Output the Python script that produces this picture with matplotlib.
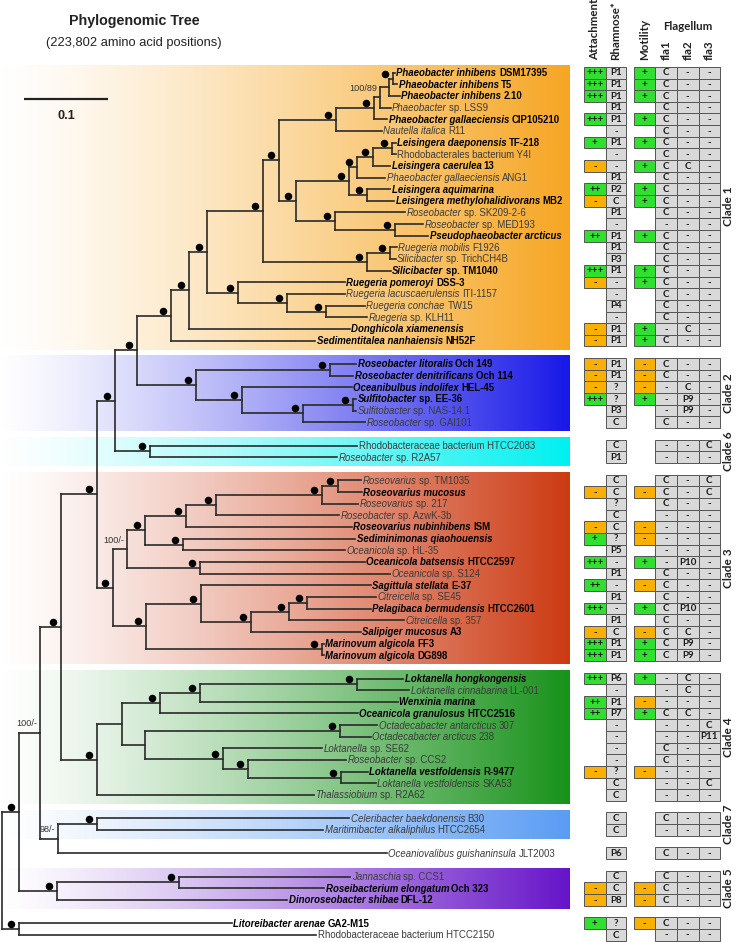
import matplotlib
matplotlib.use('Agg')
import matplotlib.pyplot as plt
import numpy as np
from matplotlib.colors import to_rgb
from matplotlib.collections import LineCollection
from matplotlib.patches import Rectangle

# ------------------------------------------------------------------ data
TAXA = [
    ("Phaeobacter inhibens", "DSM17395", True),
    ("Phaeobacter inhibens", "T5", True),
    ("Phaeobacter inhibens", "2.10", True),
    ("Phaeobacter", "sp. LSS9", False),
    ("Phaeobacter gallaeciensis", "CIP105210", True),
    ("Nautella italica", "R11", False),
    ("Leisingera daeponensis", "TF-218", True),
    ("", "Rhodobacterales bacterium Y4I", False),
    ("Leisingera caerulea", "13", True),
    ("Phaeobacter gallaeciensis", "ANG1", False),
    ("Leisingera aquimarina", "", True),
    ("Leisingera methylohalidivorans", "MB2", True),
    ("Roseobacter", "sp. SK209-2-6", False),
    ("Roseobacter", "sp. MED193", False),
    ("Pseudophaeobacter arcticus", "", True),
    ("Ruegeria mobilis", "F1926", False),
    ("Silicibacter", "sp. TrichCH4B", False),
    ("Silicibacter", "sp. TM1040", True),
    ("Ruegeria pomeroyi", "DSS-3", True),
    ("Ruegeria lacuscaerulensis", "ITI-1157", False),
    ("Ruegeria conchae", "TW15", False),
    ("Ruegeria", "sp. KLH11", False),
    ("Donghicola xiamenensis", "", True),
    ("Sedimentitalea nanhaiensis", "NH52F", True),
    ("Roseobacter litoralis", "Och 149", True),
    ("Roseobacter denitrificans", "Och 114", True),
    ("Oceanibulbus indolifex", "HEL-45", True),
    ("Sulfitobacter", "sp. EE-36", True),
    ("Sulfitobacter", "sp. NAS-14.1", False),
    ("Roseobacter", "sp. GAI101", False),
    ("", "Rhodobacteraceae bacterium HTCC2083", False),
    ("Roseobacter", "sp. R2A57", False),
    ("Roseovarius", "sp. TM1035", False),
    ("Roseovarius mucosus", "", True),
    ("Roseovarius", "sp. 217", False),
    ("Roseobacter", "sp. AzwK-3b", False),
    ("Roseovarius nubinhibens", "ISM", True),
    ("Sediminimonas qiaohouensis", "", True),
    ("Oceanicola", "sp. HL-35", False),
    ("Oceanicola batsensis", "HTCC2597", True),
    ("Oceanicola", "sp. S124", False),
    ("Sagittula stellata", "E-37", True),
    ("Citreicella", "sp. SE45", False),
    ("Pelagibaca bermudensis", "HTCC2601", True),
    ("Citreicella", "sp. 357", False),
    ("Salipiger mucosus", "A3", True),
    ("Marinovum algicola", "FF3", True),
    ("Marinovum algicola", "DG898", True),
    ("Loktanella hongkongensis", "", True),
    ("Loktanella cinnabarina", "LL-001", False),
    ("Wenxinia marina", "", True),
    ("Oceanicola granulosus", "HTCC2516", True),
    ("Octadecabacter antarcticus", "307", False),
    ("Octadecabacter arcticus", "238", False),
    ("Loktanella", "sp. SE62", False),
    ("Roseobacter", "sp. CCS2", False),
    ("Loktanella vestfoldensis", "R-9477", True),
    ("Loktanella vestfoldensis", "SKA53", False),
    ("Thalassiobium", "sp. R2A62", False),
    ("Celeribacter baekdonensis", "B30", False),
    ("Maritimibacter alkaliphilus", "HTCC2654", False),
    ("Oceaniovalibus guishaninsula", "JLT2003", False),
    ("Jannaschia", "sp. CCS1", False),
    ("Roseibacterium elongatum", "Och 323", True),
    ("Dinoroseobacter shibae", "DFL-12", True),
    ("Litoreibacter arenae", "GA2-M15", True),
    ("", "Rhodobacteraceae bacterium HTCC2150", False),
]

GROUP_SIZES = [24, 6, 2, 16, 11, 2, 1, 3, 2]
CLADE_NAMES = ['Clade 1', 'Clade 2', 'Clade 6', 'Clade 3', 'Clade 4', 'Clade 7', None, 'Clade 5', None]
CLADE_COLORS = ['#F6A623', '#1818E8', '#00F0F0', '#CC3A12', '#18921A', '#5A9CF4', None, '#6614C8', None]

ATTACH = ['+++', '+++', '+++', '', '+++', '', '+', '', '-', '', '++', '-', '', '', '++', '', '', '+++', '-', '', '', '', '-', '-',
          '-', '-', '-', '+++', '', '',
          '', '',
          '', '-', '', '', '-', '+', '', '+++', '', '++', '', '+++', '', '-', '+++', '+++',
          '+++', '', '++', '++', '', '', '', '', '-', '', '',
          '', '', '', '', '-', '-', '+', '']
RHAMNOSE = ['P1', 'P1', 'P1', 'P1', 'P1', '-', 'P1', '-', '-', 'P1', 'P2', 'C', 'P1', '-', 'P1', 'P1', 'P3', 'P1', '-', '-', 'P4', '-', 'P1', 'P1',
            'P1', 'P1', '?', '?', 'P3', 'C',
            'C', 'P1',
            'C', 'C', '?', 'C', 'C', '?', 'P5', '-', 'P1', '-', 'P1', '-', 'P1', 'C', 'P1', 'P1',
            'P6', '-', 'P1', 'P7', '-', '-', '-', '-', '?', 'C', 'C',
            'C', 'C', 'P6', 'C', 'C', 'P8', '?', 'C']
MOTILITY = ['+', '+', '+', '', '+', '', '+', '', '+', '', '+', '+', '', '', '+', '', '', '+', '+', '', '', '', '+', '+',
            '-', '-', '-', '+', '', '',
            '', '',
            '', '-', '', '', '-', '-', '', '+', '', '-', '', '+', '', '-', '+', '+',
            '+', '', '-', '+', '', '', '', '', '-', '', '',
            '', '', '', '', '-', '-', '-', '']
FLA1 = ['C', 'C', 'C', 'C', 'C', 'C', 'C', 'C', 'C', 'C', 'C', 'C', 'C', '-', 'C', 'C', 'C', 'C', 'C', 'C', 'C', 'C', '-', 'C',
        'C', 'C', '-', '-', '-', 'C',
        '-', '-',
        'C', 'C', 'C', '-', '-', '-', '-', '-', 'C', 'C', 'C', 'C', 'C', 'C', 'C', 'C',
        '-', '-', '-', 'C', '-', '-', 'C', 'C', '-', '-', '-',
        'C', '-', 'C', 'C', 'C', 'C', 'C', '-']
FLA2 = ['-', '-', '-', '-', '-', '-', '-', '-', 'C', '-', '-', '-', '-', '-', '-', '-', '-', '-', '-', '-', '-', '-', 'C', '-',
        '-', '-', 'C', 'P9', 'P9', '-',
        '-', '-',
        '-', '-', '-', '-', '-', '-', '-', 'P10', '-', '-', '-', 'P10', '-', 'C', 'P9', 'P9',
        'C', 'C', '-', 'C', '-', '-', '-', '-', '-', '-', '-',
        '-', '-', '-', '-', '-', '-', '-', '-']
FLA3 = ['-', '-', '-', '-', '-', '-', '-', '-', '-', '-', '-', '-', '-', '-', '-', '-', '-', '-', '-', '-', '-', '-', '-', '-',
        '-', '-', '-', '-', '-', '-',
        'C', '-',
        'C', 'C', '-', '-', '-', '-', '-', '-', '-', '-', '-', '-', '-', '-', '-', '-',
        '-', '-', '-', '-', 'C', 'P11', '-', '-', '-', 'C', '-',
        '-', '-', '-', '-', '-', '-', '-', '-']

COLUMN_TITLES = ['Attachment', 'Rhamnose*', 'Motility', 'fla1', 'fla2', 'fla3']

# internal nodes: name -> (support, [(child, branch length), ...]) ; leaves are L1..L67
TREE_NODES = {
    'nU':  ('100',    [('L1', .0024), ('L2', .0048)]),
    'nV':  ('',       [('nU', .0048), ('L3', .0131)]),
    'nW':  ('100/89', [('nV', .0107), ('L4', .0127)]),
    'nT':  ('100',    [('nW', .0071), ('L5', .0158)]),
    'nR':  ('100',    [('nT', .0452), ('L6', .0544)]),
    'nAE': ('100',    [('L7', .0042), ('L8', .0042)]),
    'nAD': ('100',    [('nAE', .0230), ('L9', .0206)]),
    'nAB': ('100',    [('nAD', .0190), ('L10', .0337)]),
    'nAC': ('100',    [('L11', .0277), ('L12', .0325)]),
    'nY':  ('100',    [('nAB', .0088), ('nAC', .0207)]),
    'nAA': ('100',    [('L14', .0337), ('L15', .0396)]),
    'nZ':  ('100',    [('L13', .0833), ('nAA', .0714)]),
    'nS':  ('100',    [('nY', .0635), ('nZ', .0464)]),
    'nM':  ('100',    [('nR', .0675), ('nS', .0199)]),
    'nQ':  ('100',    [('L16', .0080), ('L17', .0068)]),
    'nP':  ('100',    [('nQ', .0277), ('L18', .0286)]),
    'nK':  ('100',    [('nM', .0198), ('nP', .1238)]),
    'nO':  ('100',    [('L21', .0464), ('L22', .0488)]),
    'nN':  ('100',    [('L20', .0694), ('nO', .0468)]),
    'nL':  ('100',    [('L19', .1270), ('nN', .0576)]),
    'nJ':  ('100',    [('nK', .0667), ('nL', .0376)]),
    'nI':  ('100',    [('nJ', .0207), ('L23', .1913)]),
    'nH':  ('100',    [('nI', .0221), ('L24', .1718)]),
    'nAF': ('100',    [('L25', .0310), ('L26', .0277)]),
    'nAI': ('100',    [('L28', .0032), ('L29', .0032)]),
    'nAH': ('100',    [('nAI', .0595), ('L30', .0735)]),
    'nAG': ('100',    [('L27', .1306), ('nAH', .0726)]),
    'nC2': ('100',    [('nAF', .1599), ('nAG', .0555)]),
    'nG':  ('100',    [('nH', .0405), ('nC2', .0702)]),
    'nC6': ('100',    [('L31', .2464), ('L32', .2226)]),
    'nF':  ('100',    [('nG', .0258), ('nC6', .0417)]),
    'nAR': ('100',    [('L33', .0270), ('L34', .0282)]),
    'nAS': ('100',    [('nAR', .0198), ('L35', .0432)]),
    'nAP': ('100',    [('nAS', .1258), ('L36', .1464)]),
    'nAN': ('100',    [('nAP', .0357), ('L37', .1976)]),
    'nAO': ('100',    [('L38', .2044), ('L39', .1925)]),
    'nAL': ('100',    [('nAN', .0488), ('nAO', .0456)]),
    'nAM': ('100',    [('L40', .1964), ('L41', .2262)]),
    'nAJ': ('100/-',  [('nAL', .0211), ('nAM', .0865)]),
    'nAX': ('100',    [('L43', .0825), ('L44', .0765)]),
    'nAW': ('100',    [('nAX', .0207), ('L45', .1365)]),
    'nAV': ('100',    [('nAW', .0460), ('L46', .1313)]),
    'nAT': ('100',    [('L42', .2027), ('nAV', .0595)]),
    'nAU': ('100',    [('L47', .0027), ('L48', .0027)]),
    'nAK': ('100',    [('nAT', .0651), ('nAU', .2092)]),
    'nC3': ('100',    [('nAJ', .0167), ('nAK', .0389)]),
    'nE':  ('100',    [('nF', .0211), ('nC3', .0190)]),
    'nBE': ('100',    [('L49', .0555), ('L50', .0626)]),
    'nBD': ('100',    [('nBE', .1865), ('L51', .2357)]),
    'nBB': ('100',    [('nBD', .0476), ('L52', .2357)]),
    'nBF': ('100',    [('L53', .0444), ('L54', .0365)]),
    'nBI': ('100',    [('L57', .0325), ('L58', .0420)]),
    'nBH': ('100',    [('L56', .1170), ('nBI', .1107)]),
    'nBG': ('100',    [('L55', .1175), ('nBH', .0290)]),
    'nBC': ('',       [('nBF', .2321), ('nBG', .0932)]),
    'nBA': ('',       [('nBB', .0456), ('nBC', .0277)]),
    'nC4': ('100',    [('nBA', .0290), ('L59', .2580)]),
    'nC':  ('100',    [('nE', .0432), ('nC4', .0432)]),
    'nC7': ('100',    [('L60', .3007), ('L61', .2698)]),
    'nD':  ('98/-',   [('nC7', .0464), ('L62', .3917)]),
    'nB':  ('100/-',  [('nC', .0250), ('nD', .0211)]),
    'nBJ': ('100',    [('L63', .2036), ('L64', .1726)]),
    'nC5': ('100',    [('nBJ', .1456), ('L65', .2742)]),
    'nA':  ('100',    [('nB', .0246), ('nC5', .0445)]),
    'nOUT': ('100',   [('L66', .2529), ('L67', .3532)]),
    'ROOT': ('',      [('nA', .0210), ('nOUT', .0210)]),
}
SCALE_BAR = 0.1

# ------------------------------------------------------------------ layout
W, H = 736, 942
PX = 840.0        # pixels per substitution/site
ROOT_PX = 1.7
ROW = 11.65       # pixels per row slot
ROW0 = 72.7       # pixel y of first row

fig = plt.figure(figsize=(W / 100, H / 100), dpi=100)
fig.patch.set_facecolor('white')
ax = fig.add_axes([0, 0, 1, 1])
ax.set_xlim(-ROOT_PX / PX, (W - ROOT_PX) / PX)
ax.set_ylim((H - ROW0) / ROW, -ROW0 / ROW)
ax.axis('off')

# row slots with a one-row gap between groups
slots = []
for g, n in enumerate(GROUP_SIZES):
    start = sum(GROUP_SIZES[:g]) + g
    slots += [start + k for k in range(n)]

pos = {}


def layout(name, depth):
    if name not in TREE_NODES:
        y = slots[int(name[1:]) - 1]
        pos[name] = (depth, y)
        return y
    _, kids = TREE_NODES[name]
    ys = [layout(c, depth + bl) for c, bl in kids]
    y = (ys[0] + ys[-1]) / 2.0
    pos[name] = (depth, y)
    return y


layout('ROOT', 0.0)

# clade bands
group_first = [sum(GROUP_SIZES[:g]) for g in range(len(GROUP_SIZES))]
band_left = -ROOT_PX / PX
band_right = (570 - ROOT_PX) / PX
for g, n in enumerate(GROUP_SIZES):
    col = CLADE_COLORS[g]
    if col is None:
        continue
    s0 = slots[group_first[g]]
    s1 = slots[group_first[g] + n - 1]
    t = np.linspace(0, 1, 400) ** 1.25
    c = np.array(to_rgb(col))
    img = (1 - t)[:, None] * np.ones(3) + t[:, None] * c
    ax.imshow(img[None, :, :], extent=[band_left, band_right, s1 + 9 / ROW, s0 - 8 / ROW],
              aspect='auto', interpolation='bilinear', zorder=0)
ax.set_xlim(-ROOT_PX / PX, (W - ROOT_PX) / PX)
ax.set_ylim((H - ROW0) / ROW, -ROW0 / ROW)

# tree edges
segs = []
for name, (sup, kids) in TREE_NODES.items():
    x, y = pos[name]
    ys = [pos[c][1] for c, _ in kids]
    segs.append([(x, min(ys)), (x, max(ys))])
    for c, _ in kids:
        cx, cy = pos[c]
        segs.append([(x, cy), (cx, cy)])
ax.add_collection(LineCollection(segs, colors='#2a2a2a', linewidths=1.2,
                                 capstyle='projecting', zorder=3))

# support values
for name, (sup, kids) in TREE_NODES.items():
    x, y = pos[name]
    if sup == '100':
        ax.plot(x - 8 / PX, y - 5 / ROW, 'o', color='black', ms=4.4, zorder=4)
    elif sup:
        ax.text(x - 3 / PX, y - 9 / ROW, sup, ha='right', va='center', fontsize=6.6,
                family='Liberation Sans', color='#333333', zorder=4)

# leaf labels
LBL_FONT = 'Liberation Sans'
LBL_SIZE = 6.9
pending = []
for i, (ital, rest, bold) in enumerate(TAXA):
    x, y = pos['L%d' % (i + 1)]
    tx = x + 1.5 / PX
    ty = y + 3.4 / ROW
    weight = 'bold' if bold else 'normal'
    color = '#000000' if bold else '#3a3a3a'
    if ital:
        t1 = ax.text(tx, ty, ital, style='italic', weight=weight, fontsize=LBL_SIZE,
                     family=LBL_FONT, color=color, ha='left', va='baseline', zorder=5)
        if rest:
            pending.append((t1, rest, weight, color, ty))
    else:
        ax.text(tx, ty, rest, weight=weight, fontsize=LBL_SIZE, family=LBL_FONT,
                color=color, ha='left', va='baseline', zorder=5)

fig.canvas.draw()
renderer = fig.canvas.get_renderer()
inv = ax.transData.inverted()
for t1, rest, weight, color, ty in pending:
    bb = t1.get_window_extent(renderer)
    xr, _ = inv.transform((bb.x1, bb.y0))
    ax.text(xr + 2.4 / PX, ty, rest, weight=weight, fontsize=LBL_SIZE, family=LBL_FONT,
            color=color, ha='left', va='baseline', zorder=5)

# scale bar
sb_x0 = (24 - ROOT_PX) / PX
sb_y = (99 - ROW0) / ROW
ax.plot([sb_x0, sb_x0 + SCALE_BAR], [sb_y, sb_y], color='#222222', lw=1.6, solid_capstyle='butt')
ax.text(sb_x0 + SCALE_BAR / 2, (116 - ROW0) / ROW, '%.1f' % SCALE_BAR, ha='center', va='center',
        fontsize=9.2, weight='bold', family='Liberation Sans', color='#222222')

# title
fig.text(134 / W, 1 - 21 / H, 'Phylogenomic Tree', ha='center', va='center', fontsize=10.3,
         weight='bold', family='Liberation Sans', color='#222222')
fig.text(134 / W, 1 - 43 / H, '(223,802 amino acid positions)', ha='center', va='center',
         fontsize=9.3, family='Liberation Sans', color='#222222')

# ------------------------------------------------------------------ table
ax2 = fig.add_axes([0, 0, 1, 1])
ax2.set_xlim(0, W)
ax2.set_ylim((H - ROW0) / ROW, -ROW0 / ROW)
ax2.axis('off')
ax2.patch.set_alpha(0)

TBL_FONT = 'Lato'
GREEN = '#2FE02F'
ORANGE = '#F9B000'
GRAY = '#D9D9D9'
columns = [(ATTACH, 583.5, 606.0, True), (RHAMNOSE, 606.0, 626.0, False),
           (MOTILITY, 633.5, 655.0, True), (FLA1, 655.0, 677.0, False),
           (FLA2, 677.0, 698.5, False), (FLA3, 698.5, 720.0, False)]
for values, x0, x1, coloured in columns:
    for i, v in enumerate(values):
        if v == '':
            continue
        s = slots[i]
        if coloured:
            fc = GREEN if '+' in v else ORANGE
        else:
            fc = GRAY
        ax2.add_patch(Rectangle((x0, s - 0.5), x1 - x0, 1.0, facecolor=fc,
                                edgecolor='#555555', lw=0.7, zorder=2))
        ax2.text((x0 + x1) / 2, s + 0.02, v, ha='center', va='center', fontsize=7,
                 weight='bold', family=TBL_FONT, color='#1a1a1a', zorder=3)

# column headers
hdr_y = (60 - ROW0) / ROW
for (values, x0, x1, _), title in zip(columns, COLUMN_TITLES):
    ax2.text((x0 + x1) / 2, hdr_y, title, rotation=90, ha='center', va='bottom',
             fontsize=8.3, weight='bold', family=TBL_FONT, color='#222222')
ax2.text((655.0 + 720.0) / 2, (27 - ROW0) / ROW, 'Flagellum', ha='center', va='center',
         fontsize=8.3, weight='bold', family=TBL_FONT, color='#222222')

# clade labels
for g, n in enumerate(GROUP_SIZES):
    if CLADE_NAMES[g] is None:
        continue
    s0 = slots[group_first[g]]
    s1 = slots[group_first[g] + n - 1]
    ax2.text(728.5, (s0 + s1) / 2, CLADE_NAMES[g], rotation=90, ha='center', va='center',
             fontsize=8.6, weight='bold', family=TBL_FONT, color='#222222')

fig.savefig('out.png', dpi=100, facecolor='white')
